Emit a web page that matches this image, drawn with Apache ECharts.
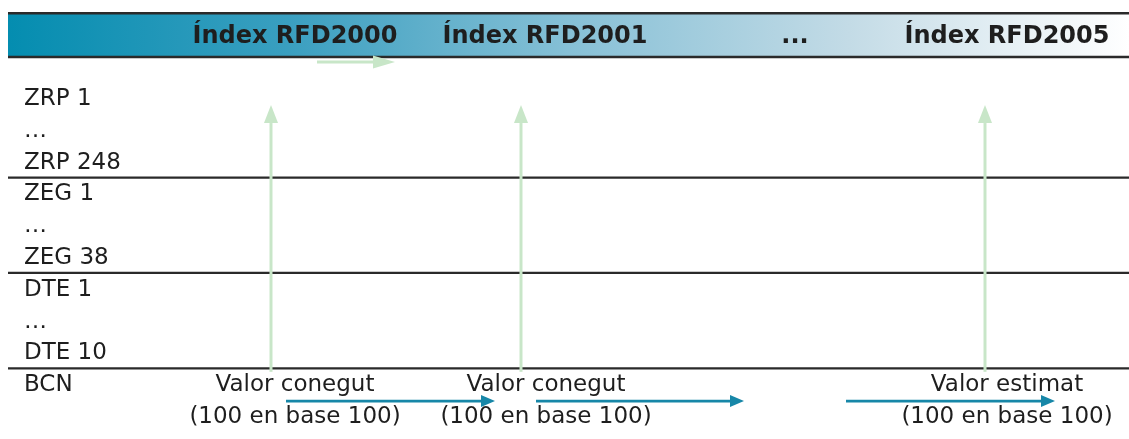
<!DOCTYPE html>
<html>
<head>
<meta charset="utf-8">
<script src="https://cdn.jsdelivr.net/npm/echarts@6/dist/echarts.min.js"></script>
<style>
  html, body { margin: 0; padding: 0; background: #fff; }
  #chart { width: 1129px; height: 439px; }
</style>
</head>
<body>
<div id="chart"></div>
<script>
// capçalera
const headerLabels = ['Índex RFD2000', 'Índex RFD2001', '...', 'Índex RFD2005']
const headerCenters = [295, 545, 795, 1007]

// files (una per fila, 0..9)
const rowLabels = ['ZRP 1', '…', 'ZRP 248', 'ZEG 1', '…', 'ZEG 38', 'DTE 1', '…', 'DTE 10', 'BCN']
const separatorRows = [2.47, 5.47, 8.47]

// notes de la fila BCN
const noteTitles = ['Valor conegut', 'Valor conegut', 'Valor estimat']
const noteSubtitles = ['(100 en base 100)', '(100 en base 100)', '(100 en base 100)']
const noteCenters = [295, 546, 1007]

// fletxes
const upArrowX = [271, 521, 985]
const flowArrows = [[286, 495], [536, 744], [846, 1055]]
const headerArrow = [317, 395]

const font = 'DejaVu Sans, Verdana, sans-serif'
const textColor = '#1e1e1e'

function arrowRender (color, width, headLen, headW) {
  return function (params, api) {
    const p0 = api.coord([api.value(0), api.value(1)])
    const p1 = api.coord([api.value(2), api.value(3)])
    const dx = p1[0] - p0[0]
    const dy = p1[1] - p0[1]
    const len = Math.sqrt(dx * dx + dy * dy)
    const ux = dx / len
    const uy = dy / len
    const bx = p1[0] - ux * headLen
    const by = p1[1] - uy * headLen
    return {
      type: 'group',
      children: [{
        type: 'line',
        shape: { x1: p0[0], y1: p0[1], x2: bx, y2: by },
        style: { stroke: color, lineWidth: width }
      }, {
        type: 'polygon',
        shape: {
          points: [
            [p1[0], p1[1]],
            [bx - uy * headW / 2, by + ux * headW / 2],
            [bx + uy * headW / 2, by - ux * headW / 2]
          ]
        },
        style: { fill: color }
      }]
    }
  }
}

function textRender (size, weight, align) {
  return function (params, api) {
    const p = api.coord([api.value(0), api.value(1)])
    return {
      type: 'text',
      x: p[0],
      y: p[1],
      style: {
        text: api.value(2),
        fill: textColor,
        font: weight + ' ' + size + 'px ' + font,
        align: align,
        verticalAlign: 'middle'
      }
    }
  }
}

const chart = echarts.init(document.getElementById('chart'))

const option = {
  animation: false,
  grid: { left: 0, right: 0, top: 0, bottom: 0 },
  xAxis: { type: 'value', min: 0, max: 1129, show: false },
  yAxis: { type: 'value', min: -3.113, max: 10.692, inverse: true, show: false },
  series: [{
    // banda de la capçalera
    type: 'custom',
    data: [[8, -2.70, 1129, -1.32]],
    renderItem: function (params, api) {
      const a = api.coord([api.value(0), api.value(1)])
      const b = api.coord([api.value(2), api.value(3)])
      return {
        type: 'group',
        children: [{
          type: 'rect',
          shape: { x: a[0], y: a[1], width: b[0] - a[0], height: b[1] - a[1] },
          style: {
            fill: new echarts.graphic.LinearGradient(0, 0, 1, 0, [
              { offset: 0, color: '#048db0' },
              { offset: 0.25, color: '#3a9fc0' },
              { offset: 0.5, color: '#86c0d6' },
              { offset: 0.75, color: '#c3dbe6' },
              { offset: 1, color: '#ffffff' }
            ])
          }
        }, {
          type: 'line',
          shape: { x1: a[0], y1: a[1], x2: b[0], y2: a[1] },
          style: { stroke: '#2a2a2a', lineWidth: 2.5 }
        }, {
          type: 'line',
          shape: { x1: a[0], y1: b[1], x2: b[0], y2: b[1] },
          style: { stroke: '#2a2a2a', lineWidth: 2.5 }
        }]
      }
    }
  }, {
    type: 'custom',
    data: headerLabels.map((t, i) => [headerCenters[i], -1.965, t]),
    renderItem: textRender(24, 'bold', 'center')
  }, {
    type: 'custom',
    data: [[headerArrow[0], -1.16, headerArrow[1], -1.16]],
    renderItem: arrowRender('#c8e6c8', 3, 22, 13)
  }, {
    type: 'custom',
    data: rowLabels.map((t, i) => [24, i, t]),
    renderItem: textRender(23, 'normal', 'left')
  }, {
    type: 'custom',
    data: separatorRows.map(r => [8, r, 1129, r]),
    renderItem: function (params, api) {
      const a = api.coord([api.value(0), api.value(1)])
      const b = api.coord([api.value(2), api.value(3)])
      return {
        type: 'line',
        shape: { x1: a[0], y1: a[1], x2: b[0], y2: b[1] },
        style: { stroke: '#2a2a2a', lineWidth: 2.2 }
      }
    }
  }, {
    type: 'custom',
    data: upArrowX.map(x => [x, 8.58, x, 0.19]),
    renderItem: arrowRender('#c8e6c8', 3, 18, 14)
  }, {
    type: 'custom',
    data: flowArrows.map(a => [a[0], 9.5, a[1], 9.5]),
    renderItem: arrowRender('#1787a8', 2.6, 14, 12)
  }, {
    type: 'custom',
    data: noteTitles.map((t, i) => [noteCenters[i], 9, t]),
    renderItem: textRender(23, 'normal', 'center')
  }, {
    type: 'custom',
    data: noteSubtitles.map((t, i) => [noteCenters[i], 10, t]),
    renderItem: textRender(23, 'normal', 'center')
  }]
}

chart.setOption(option)
</script>
</body>
</html>
